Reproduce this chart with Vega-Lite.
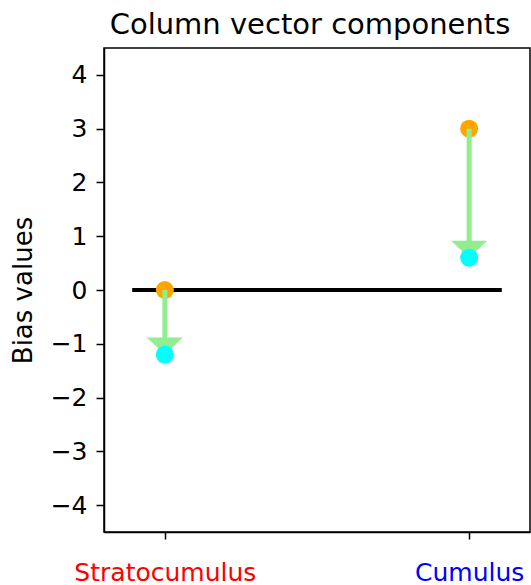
{
  "$schema": "https://vega.github.io/schema/vega-lite/v6.json",
  "width": 426,
  "height": 484,
  "autosize": {"type": "none"},
  "padding": {"left": 104, "top": 48, "right": 1, "bottom": 53},
  "background": "white",
  "config": {
    "font": "DejaVu Sans",
    "view": {"stroke": "black", "strokeWidth": 1.5},
    "axis": {"grid": false, "domainColor": "black", "domainWidth": 1.5, "tickColor": "black", "tickWidth": 1.5, "labelColor": "black", "titleColor": "black", "labelFont": "DejaVu Sans", "titleFont": "DejaVu Sans", "titleFontWeight": "normal", "labelLimit": 0}
  },
  "title": {"text": "Column vector components", "fontSize": 29, "fontWeight": "normal", "font": "DejaVu Sans", "color": "black", "offset": 8, "dx": -7, "anchor": "middle"},
  "data": {"values": [
    {"cloud": "Stratocumulus", "idx": 0, "start": 0, "end": -1.2},
    {"cloud": "Cumulus", "idx": 1, "start": 3, "end": 0.6}
  ]},
  "encoding": {
    "x": {"field": "idx", "type": "quantitative", "scale": {"domain": [-0.2, 1.2], "nice": false, "zero": false},
      "axis": {"title": null, "values": [0, 1], "labelExpr": "datum.value == 0 ? 'Stratocumulus' : 'Cumulus'", "labelFontSize": 25, "labelPadding": 21, "tickSize": 7, "labelLimit": 0,
        "labelColor": {"condition": {"test": "datum.value == 0", "value": "red"}, "value": "blue"}}}
  },
  "layer": [
    {"mark": {"type": "rule", "color": "black", "strokeWidth": 4, "strokeCap": "square"},
     "encoding": {"x": {"datum": -0.1, "type": "quantitative"}, "x2": {"datum": 1.1}, "y": {"datum": 0, "type": "quantitative"}}},
    {"mark": {"type": "point", "filled": true, "color": "#FFA500", "opacity": 1, "size": 324, "shape": "circle"},
     "encoding": {"y": {"field": "start", "type": "quantitative", "scale": {"domain": [-4.5, 4.5], "nice": false, "zero": false},
       "axis": {"title": "Bias values", "titleFontSize": 26, "titlePadding": 14, "values": [-4, -3, -2, -1, 0, 1, 2, 3, 4], "format": "d", "labelFontSize": 25, "tickSize": 8, "labelPadding": 9}}}},
    {"mark": {"type": "rule", "color": "#90EE90", "strokeWidth": 5},
     "encoding": {"y": {"field": "start", "type": "quantitative"}, "y2": {"field": "end"}}},
    {"mark": {"type": "point", "filled": true, "color": "#90EE90", "opacity": 1, "size": 1296, "shape": "M-1,-0.95L1,-0.95L0,0Z", "strokeWidth": 0},
     "encoding": {"y": {"field": "end", "type": "quantitative"}}},
    {"mark": {"type": "point", "filled": true, "color": "#00FFFF", "opacity": 1, "size": 324, "shape": "circle"},
     "encoding": {"y": {"field": "end", "type": "quantitative"}}}
  ]
}
